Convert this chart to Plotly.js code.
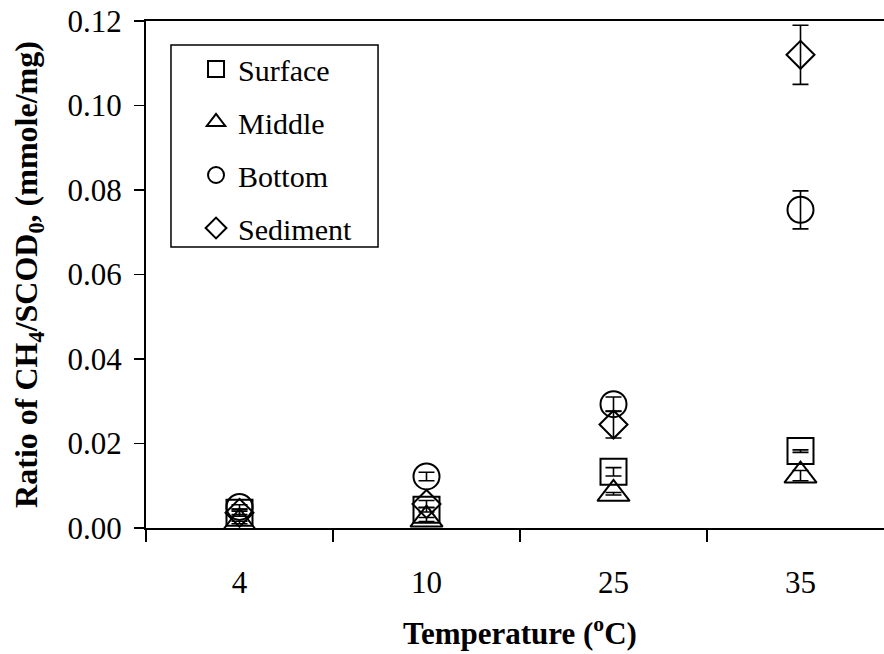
<!DOCTYPE html>
<html>
<head>
<meta charset="utf-8">
<script src="https://cdn.plot.ly/plotly-3.0.1.min.js"></script>
<style>
html, body { margin: 0; padding: 0; overflow: hidden; background: #fff; }
#chart { width: 894px; height: 654px; }
</style>
</head>
<body>
<div id="chart"></div>
<script>
// Categories (temperature, °C)
const temps = ['4', '10', '25', '35'];

// Ratio of CH4/SCOD0 (mmole/mg) and error (±)
const surface     = [0.0036, 0.0043, 0.0133, 0.0182];
const surfaceErr  = [0.0004, 0.0005, 0.0010, 0.0003];
const middle      = [0.0013, 0.0020, 0.0081, 0.0124];
const middleErr   = [0.0003, 0.0005, 0.0003, 0.0012];
const bottom      = [0.0050, 0.0122, 0.0293, 0.0753];
const bottomErr   = [0.0005, 0.0010, 0.0017, 0.0045];
const sediment    = [0.0036, 0.0057, 0.0245, 0.1120];
const sedimentErr = [0.0008, 0.0008, 0.0032, 0.0070];

const seriesNames = ['Surface', 'Middle', 'Bottom', 'Sediment'];
const yTickVals = [0, 0.02, 0.04, 0.06, 0.08, 0.10, 0.12];

const FONT = '"Liberation Serif", "Times New Roman", serif';

function makeTrace(name, y, err, symbol, size, group) {
  return {
    type: 'scatter',
    mode: 'markers',
    name: name,
    legendgroup: group,
    x: temps,
    y: y,
    marker: { symbol: symbol, size: size, color: '#000', line: { color: '#000', width: 2 } },
    error_y: { type: 'data', array: err, visible: true, color: '#000', thickness: 1.6, width: 8 },
    hoverinfo: 'x+y+name'
  };
}

const data = [
  makeTrace(seriesNames[0], surface, surfaceErr, 'square-open', 26, 'g1'),
  makeTrace(seriesNames[1], middle, middleErr, 'triangle-up-open', 28, 'g2'),
  makeTrace(seriesNames[2], bottom, bottomErr, 'circle-open', 26, 'g3'),
  makeTrace(seriesNames[3], sediment, sedimentErr, 'diamond-open', 21.5, 'g4')
];

const layout = {
  width: 894,
  height: 654,
  autosize: false,
  margin: { l: 146, r: 0, t: 21, b: 126, pad: 0 },
  paper_bgcolor: '#fff',
  plot_bgcolor: '#fff',
  font: { family: FONT, size: 30, color: '#000' },
  showlegend: true,
  legend: {
    x: 0.0642, y: 0.9566, xanchor: 'left', yanchor: 'top',
    borderwidth: 0, bgcolor: 'rgba(0,0,0,0)',
    font: { family: FONT, size: 30, color: '#000' },
    traceorder: 'grouped',
    tracegroupgap: 11,
    itemwidth: 34,
    valign: 'middle'
  },
  shapes: [{
    type: 'rect', xref: 'paper', yref: 'paper',
    x0: 0.0334, x1: 0.3102, y0: 0.5542, y1: 0.9527,
    line: { color: '#000', width: 1.5 }, fillcolor: '#fff', layer: 'below'
  }],
  xaxis: {
    type: 'category',
    categoryorder: 'array',
    categoryarray: temps,
    range: [-0.5, 3.5],
    tickson: 'boundaries',
    ticks: 'outside',
    ticklen: 12,
    tickwidth: 1.5,
    tickcolor: '#000',
    showline: true,
    linecolor: '#000',
    linewidth: 2,
    mirror: true,
    showgrid: false,
    zeroline: false,
    ticklabelstandoff: 26,
    tickfont: { family: FONT, size: 31, color: '#000' },
    title: { text: 'Temperature (<sup>o</sup>C)', font: { family: FONT, size: 31, color: '#000', weight: 'bold' }, standoff: 23 }
  },
  yaxis: {
    range: [0, 0.12],
    tickvals: yTickVals,
    tickformat: '.2f',
    ticks: 'outside',
    ticklen: 10,
    tickwidth: 1.5,
    tickcolor: '#000',
    showline: true,
    linecolor: '#000',
    linewidth: 2,
    mirror: true,
    showgrid: false,
    zeroline: false,
    ticklabelstandoff: 6,
    tickfont: { family: FONT, size: 31, color: '#000' },
    title: { text: 'Ratio of CH<sub>4</sub>/SCOD<sub>0</sub>, (mmole/mg)', font: { family: FONT, size: 32, color: '#000', weight: 'bold' }, standoff: 20 }
  }
};

Plotly.newPlot('chart', data, layout, { staticPlot: true, displayModeBar: false });
</script>
</body>
</html>
